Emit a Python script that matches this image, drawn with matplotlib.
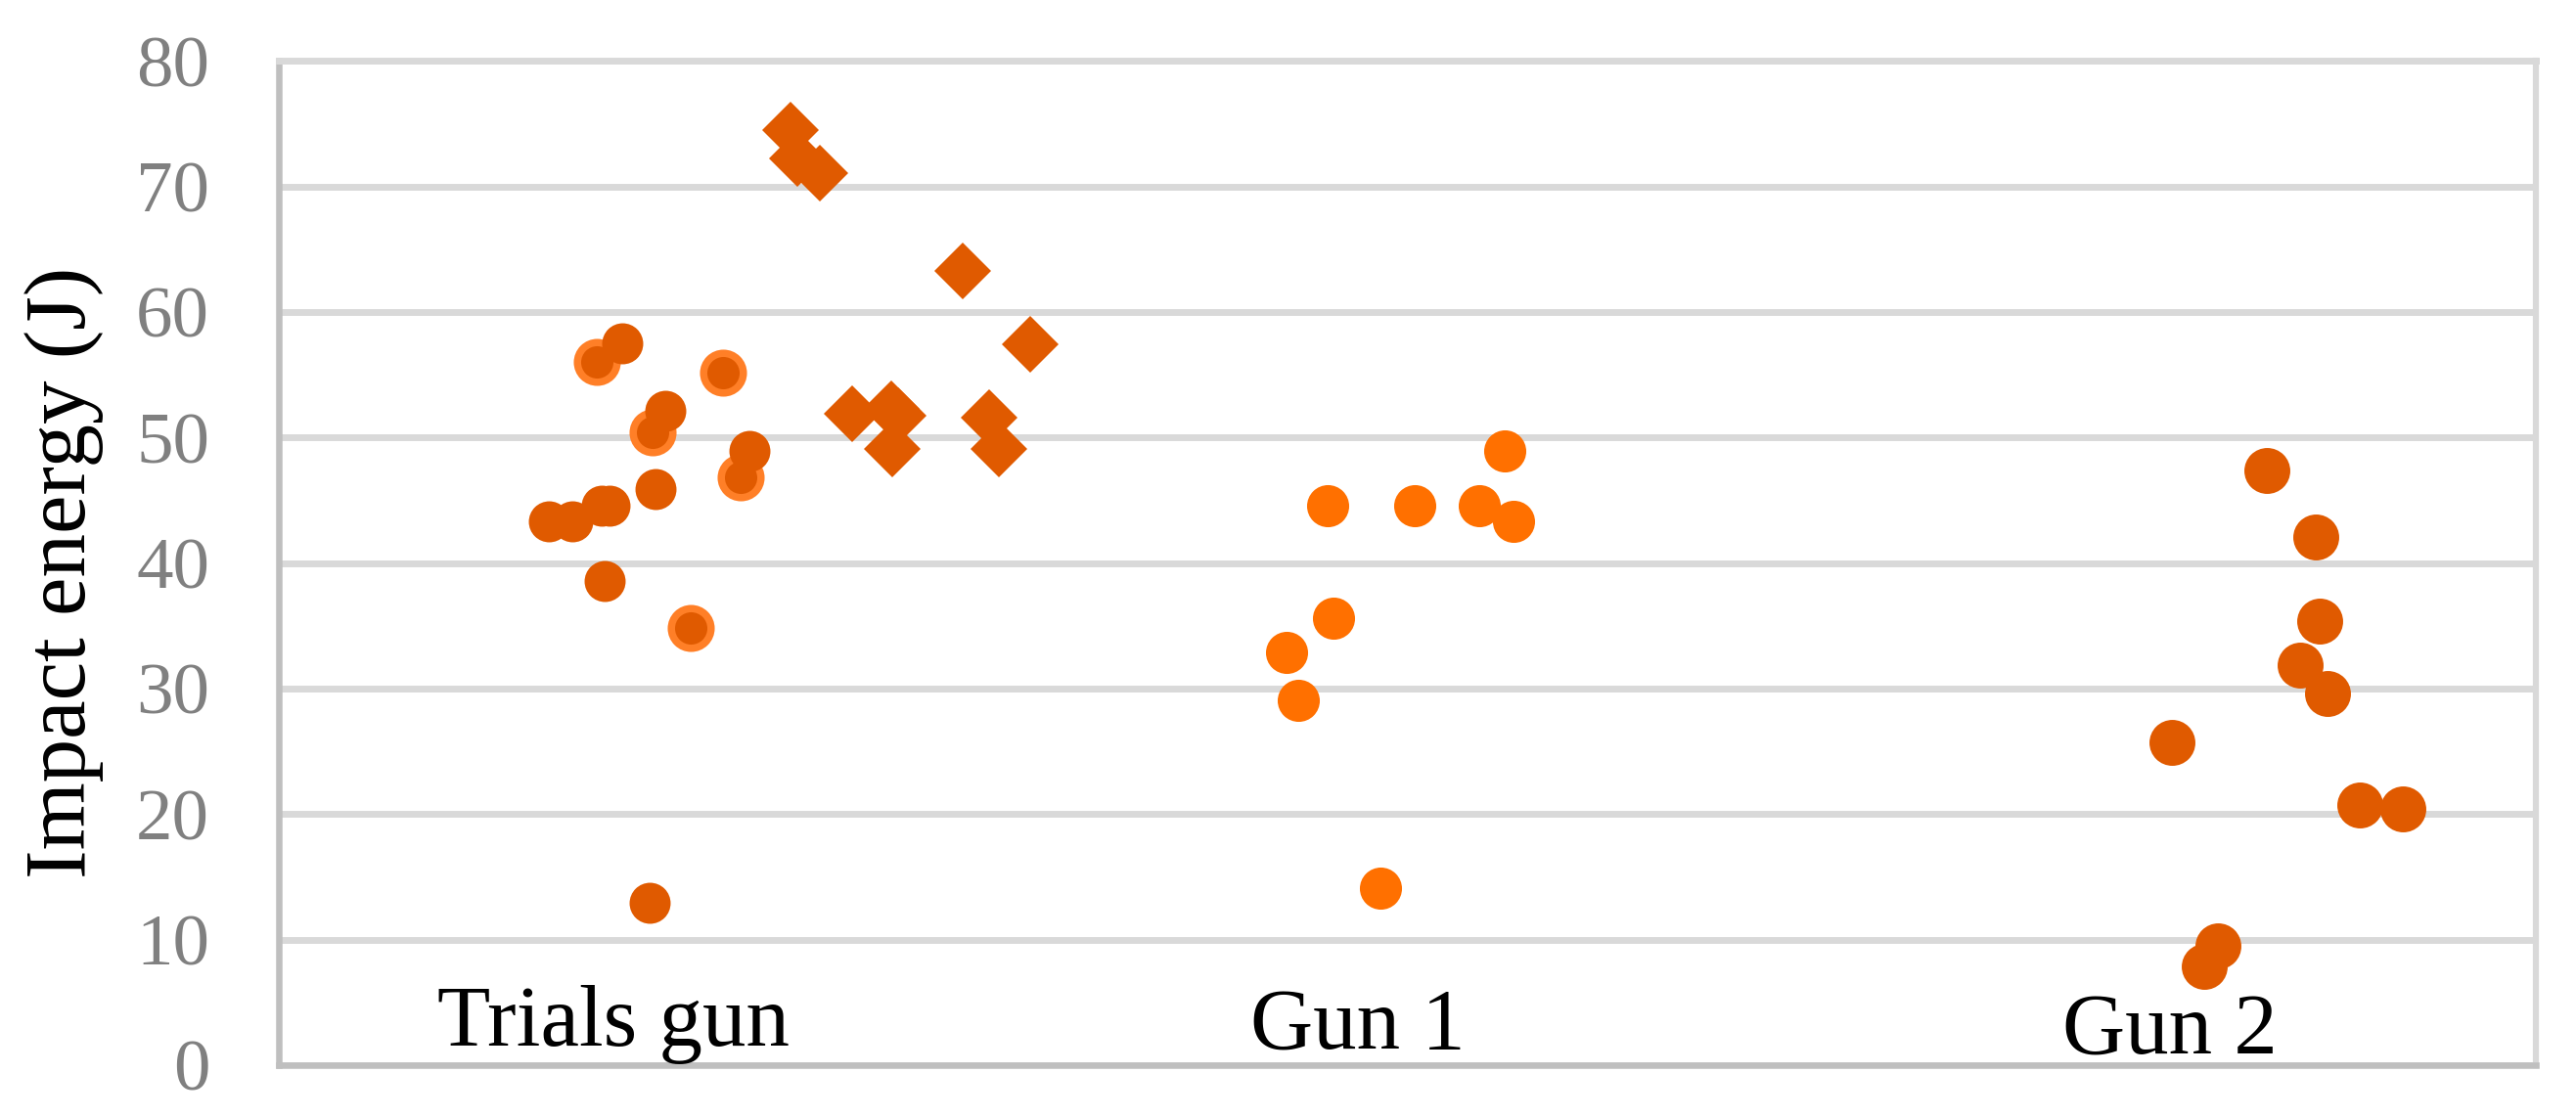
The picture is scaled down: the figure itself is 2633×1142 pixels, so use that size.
import matplotlib
matplotlib.use('Agg')
import matplotlib.pyplot as plt

plt.rcParams['font.family'] = ['Liberation Serif', 'DejaVu Serif']

## Data (x is a jitter position along a 0-100 axis, y is impact energy in J)
# Trials gun, plain dark circles
trials_x = [11.96, 13.0, 14.3, 14.65, 14.43, 15.21, 16.71, 17.12, 16.41, 20.85]
trials_y = [43.3, 43.3, 44.6, 44.6, 38.6, 57.5, 45.9, 52.1, 12.9, 48.9]
# Trials gun, circles with a light rim
rim_x = [14.09, 16.54, 18.27, 19.70, 20.45]
rim_y = [56.0, 50.4, 34.8, 55.2, 46.8]
# Trials gun, diamonds
dia_x = [22.66, 22.98, 23.97, 25.38, 27.14, 27.42, 27.18, 30.30, 31.49, 31.92, 33.29]
dia_y = [74.5, 72.2, 71.1, 51.9, 52.3, 51.7, 49.1, 63.3, 51.6, 49.1, 57.4]
# Gun 1
gun1_x = [54.31, 46.45, 50.31, 53.19, 54.69, 46.73, 44.65, 45.15, 48.81]
gun1_y = [48.9, 44.6, 44.6, 44.6, 43.3, 35.6, 32.9, 29.1, 14.1]
# Gun 2
gun2_x = [88.07, 90.25, 90.42, 89.55, 90.77, 83.87, 92.18, 94.1, 85.9, 85.29]
gun2_y = [47.4, 42.1, 35.4, 31.9, 29.6, 25.7, 20.75, 20.45, 9.5, 7.9]

group_labels = ['Trials gun', 'Gun 1', 'Gun 2']
label_x = [14.82, 47.81, 83.79]
label_y = [1.56, 1.32, 0.94]

yticks = [0, 10, 20, 30, 40, 50, 60, 70, 80]

dark = '#E05A00'
rim = '#FF7F27'
bright = '#FF7000'
grid_c = '#D9D9D9'
axis_c = '#BFBFBF'

W, H = 2633, 1142
fig = plt.figure(figsize=(W / 100, H / 100), dpi=100)
ax = fig.add_axes([285 / W, 1 - 1089 / H, (2592 - 285) / W, (1089 - 62.3) / H])

ax.set_xlim(0, 100)
ax.set_ylim(0, 80)

## grid and frame
ax.set_axisbelow(True)
ax.yaxis.grid(True, color=grid_c, linewidth=5)
ax.xaxis.grid(False)
ax.spines['left'].set_color(axis_c)
ax.spines['bottom'].set_color(axis_c)
ax.spines['left'].set_linewidth(4.7)
ax.spines['bottom'].set_linewidth(4.7)
ax.spines['right'].set_color(grid_c)
ax.spines['top'].set_color(grid_c)
ax.spines['right'].set_linewidth(4.5)
ax.spines['top'].set_linewidth(5)

## points
ax.plot(rim_x, rim_y, 'o', ms=29.2, mfc=dark, mec=rim, mew=5.4, zorder=3)
ax.plot(trials_x, trials_y, 'o', ms=30.2, mfc=dark, mec=dark, mew=0, zorder=4)
ax.plot(dia_x, dia_y, 'D', ms=29.5, mfc=dark, mec=dark, mew=0, zorder=4)
ax.plot(gun1_x, gun1_y, 'o', ms=31, mfc=bright, mec=bright, mew=0, zorder=4)
ax.plot(gun2_x, gun2_y, 'o', ms=33.8, mfc=dark, mec=dark, mew=0, zorder=4)

## axes text
ax.set_xticks([])
ax.set_yticks(yticks)
ax.tick_params(axis='y', length=0, pad=51, labelsize=54, labelcolor='#808080')

for t, x, y in zip(group_labels, label_x, label_y):
    ax.text(x, y, t, ha='center', va='baseline', fontsize=64, color='black', zorder=5)

fig.text(66 / W, 1 - 585 / H, 'Impact energy (J)', rotation=90, ha='center', va='center',
         fontsize=64, color='black')

fig.savefig('out.png', dpi=100, facecolor='white')
